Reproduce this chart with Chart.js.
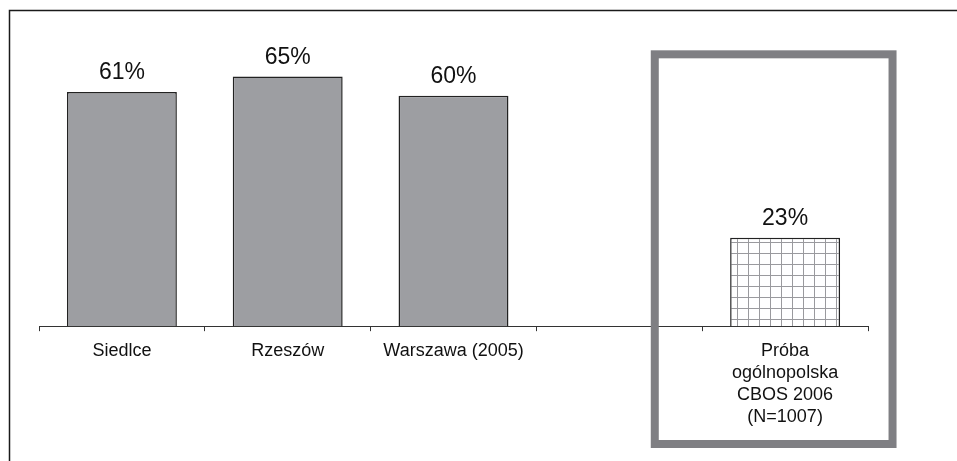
<!DOCTYPE html>
<html>
<head>
<meta charset="utf-8">
<script src="https://cdn.jsdelivr.net/npm/chart.js@4/dist/chart.umd.min.js"></script>
<style>
html,body{margin:0;padding:0;background:#fff;}
#wrap{width:957px;height:461px;position:relative;}
</style>
</head>
<body>
<div id="wrap"><canvas id="c" width="957" height="461"></canvas></div>
<script>
const categories = ['Siedlce', 'Rzeszów', 'Warszawa (2005)', '', ['Próba', 'ogólnopolska', 'CBOS 2006', '(N=1007)']];
const values = [61, 65, 60, null, 23];
const valueLabels = ['61%', '65%', '60%', '', '23%'];
const highlightIndex = 4;

function makeGridPattern() {
  const s = 11;
  const pc = document.createElement('canvas');
  pc.width = s; pc.height = s;
  const g = pc.getContext('2d');
  g.fillStyle = '#ffffff';
  g.fillRect(0, 0, s, s);
  g.fillStyle = '#9a9a9e';
  g.fillRect(0, 0, 1, s);
  g.fillRect(0, 0, s, 1);
  return g.createPattern(pc, 'repeat');
}
const ctx0 = document.getElementById('c').getContext('2d');
const gridPattern = makeGridPattern();

const decor = {
  id: 'decor',
  beforeDraw(chart) {
    const c = chart.ctx;
    c.save();
    c.fillStyle = '#fff';
    c.fillRect(0, 0, chart.width, chart.height);
    c.strokeStyle = '#1a1a1a';
    c.lineWidth = 1.5;
    c.beginPath();
    c.moveTo(9.5, chart.height);
    c.lineTo(9.5, 10.5);
    c.lineTo(chart.width, 10.5);
    c.stroke();
    c.restore();
  },
  afterDraw(chart) {
    const c = chart.ctx;
    const x = chart.scales.x, y = chart.scales.y;
    const meta = chart.getDatasetMeta(0);
    c.save();
    c.fillStyle = '#111';
    c.font = '23px "Liberation Sans", Arial, sans-serif';
    c.textAlign = 'center';
    c.textBaseline = 'alphabetic';
    meta.data.forEach((bar, i) => {
      if (values[i] == null) return;
      c.fillText(valueLabels[i], bar.x, bar.y - 13);
    });
    // highlight box
    const cx = x.getPixelForValue(highlightIndex);
    const w = x.getPixelForValue(1) - x.getPixelForValue(0);
    const left = cx - 0.786 * w;
    const right = cx + 0.648 * w;
    const top = y.getPixelForValue(70.8);
    const bottom = chart.height - 17;
    c.strokeStyle = '#7f7f83';
    c.lineWidth = 8;
    c.strokeRect(left, top, right - left, bottom - top);
    c.restore();
  }
};

new Chart(ctx0, {
  type: 'bar',
  data: {
    labels: categories,
    datasets: [{
      data: values,
      backgroundColor: values.map((v, i) => i === highlightIndex ? gridPattern : '#9d9ea2'),
      borderColor: '#222',
      borderWidth: 1.5,
      barPercentage: 0.663,
      categoryPercentage: 1
    }]
  },
  plugins: [decor],
  options: {
    responsive: false,
    animation: false,
    devicePixelRatio: 1,
    layout: { padding: { left: 39, right: 89, top: 19, bottom: 24 } },
    plugins: { legend: { display: false }, tooltip: { enabled: false } },
    scales: {
      y: { display: false, min: 0, max: 80 },
      x: {
        grid: { display: true, drawOnChartArea: false, tickLength: 5, color: '#333', lineWidth: 1, offset: true },
        border: { display: true, color: '#333', width: 1 },
        ticks: {
          color: '#111',
          padding: 9,
          maxRotation: 0,
          autoSkip: false,
          font: { family: '"Liberation Sans", Arial, sans-serif', size: 18, lineHeight: 1.22 }
        }
      }
    }
  }
});
</script>
</body>
</html>
